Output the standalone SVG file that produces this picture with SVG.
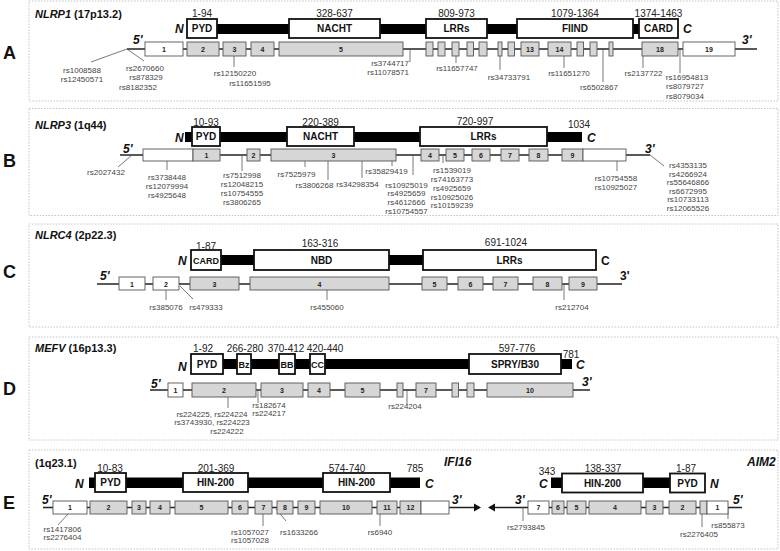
<svg xmlns="http://www.w3.org/2000/svg" width="780" height="551" viewBox="0 0 780 551">
<style>
.fr{fill:none;stroke:#c4c4c4;stroke-width:1;stroke-dasharray:1.5 1.5}
.bar{fill:#000}
.dom{fill:#fff;stroke:#111;stroke-width:1.8}
.ex{fill:#d6d6d6;stroke:#555;stroke-width:0.9}
.exw{fill:#fff;stroke:#555;stroke-width:0.9}
.gl{stroke:#222;stroke-width:1.3;fill:none}
.sn{stroke:#555;stroke-width:0.8;fill:none}
text{font-family:"Liberation Sans",Arial,sans-serif}
.rs{font-size:8px;fill:#444;text-anchor:middle}
.rse{font-size:8px;fill:#444;text-anchor:end}
.num{font-size:10px;fill:#222;text-anchor:middle}
.dl{font-size:10px;font-weight:bold;fill:#111;text-anchor:middle}
.ds{font-size:9px;font-weight:bold;fill:#111;text-anchor:middle}
.en{font-size:7px;font-weight:bold;fill:#222;text-anchor:middle}
.tm{font-size:12px;font-weight:bold;font-style:italic;fill:#111}
.tu{font-size:12px;font-weight:bold;fill:#111}
.ti{font-size:11px;font-weight:bold;fill:#111}
.pl{font-size:18px;font-weight:bold;fill:#111}
</style>

<!-- Panel frames and letters -->
<g id="frames">
<rect class="fr" x="29" y="1" width="749" height="100"/>
<rect class="fr" x="29" y="108.5" width="749" height="107"/>
<rect class="fr" x="29" y="224" width="749" height="103"/>
<rect class="fr" x="29" y="337" width="749" height="103"/>
<rect class="fr" x="29" y="450" width="749" height="99"/>
<text class="pl" x="3" y="59">A</text>
<text class="pl" x="3" y="167">B</text>
<text class="pl" x="3" y="278">C</text>
<text class="pl" x="3" y="395">D</text>
<text class="pl" x="3" y="508.5">E</text>
</g>

<!-- ================= PANEL A ================= -->
<g id="panelA">
<text class="ti" x="35" y="18"><tspan font-style="italic">NLRP1</tspan> (17p13.2)</text>
<g id="A-protein">
<rect class="bar" x="217" y="24" width="422" height="10"/>
<text class="tm" x="175" y="33">N</text>
<text class="tm" x="683" y="33">C</text>
<g id="A-PYD"><rect class="dom" x="187" y="19" width="30" height="19"/><text class="dl" x="202" y="32">PYD</text><text class="num" x="202" y="16.5">1-94</text></g>
<g id="A-NACHT"><rect class="dom" x="289" y="19" width="91" height="19"/><text class="dl" x="334.5" y="32">NACHT</text><text class="num" x="334.5" y="16.5">328-637</text></g>
<g id="A-LRRs"><rect class="dom" x="426" y="19" width="61" height="19"/><text class="dl" x="456.5" y="32">LRRs</text><text class="num" x="456.5" y="16.5">809-973</text></g>
<g id="A-FIIND"><rect class="dom" x="517" y="19" width="116" height="19"/><text class="dl" x="575" y="32">FIIND</text><text class="num" x="575" y="16.5">1079-1364</text></g>
<g id="A-CARD"><rect class="dom" x="639" y="19" width="39" height="19"/><text class="dl" x="658.5" y="32">CARD</text><text class="num" x="658.5" y="16.5">1374-1463</text></g>
</g>
<g id="A-connectors">
<line class="gl" x1="127" y1="49" x2="757" y2="49"/>
<line class="sn" x1="127" y1="49" x2="91" y2="62"/>
<line class="sn" x1="127" y1="49" x2="144" y2="61"/>
<line class="sn" x1="234" y1="56" x2="234" y2="67"/>
<line class="sn" x1="410" y1="49" x2="410" y2="62"/>
<line class="sn" x1="456" y1="56" x2="456" y2="63"/>
<line class="sn" x1="500" y1="56" x2="500" y2="70"/>
<line class="sn" x1="564" y1="56" x2="564" y2="68"/>
<line class="sn" x1="603" y1="49" x2="603" y2="82"/>
<line class="sn" x1="643" y1="56" x2="643" y2="68"/>
<line class="sn" x1="680" y1="49" x2="680" y2="73"/>
</g>
<g id="A-exons">
<text class="tm" x="133" y="44">5'</text>
<text class="tm" x="742" y="44">3'</text>
<g id="A-ex1"><rect class="exw" x="145" y="42" width="38" height="14"/><text class="en" x="164" y="51.5">1</text></g>
<g id="A-ex2"><rect class="ex" x="187" y="42" width="32" height="14"/><text class="en" x="203" y="51.5">2</text></g>
<g id="A-ex3"><rect class="ex" x="223" y="42" width="23" height="14"/><text class="en" x="234.5" y="51.5">3</text></g>
<g id="A-ex4"><rect class="ex" x="251" y="42" width="23" height="14"/><text class="en" x="262.5" y="51.5">4</text></g>
<g id="A-ex5"><rect class="ex" x="279" y="42" width="124" height="14"/><text class="en" x="341" y="51.5">5</text></g>
<g id="A-ex6"><rect class="ex" x="426" y="42" width="7" height="14"/></g>
<g id="A-ex7"><rect class="ex" x="438" y="42" width="7" height="14"/></g>
<g id="A-ex8"><rect class="ex" x="452" y="42" width="7" height="14"/></g>
<g id="A-ex9"><rect class="ex" x="467" y="42" width="6.5" height="14"/></g>
<g id="A-ex10"><rect class="ex" x="479" y="42" width="8" height="14"/></g>
<g id="A-ex11"><rect class="ex" x="498" y="42" width="4" height="14"/></g>
<g id="A-ex12"><rect class="ex" x="508" y="42" width="6.5" height="14"/></g>
<g id="A-ex13"><rect class="ex" x="521" y="42" width="18" height="14"/><text class="en" x="530" y="51.5">13</text></g>
<g id="A-ex14"><rect class="ex" x="548" y="42" width="23" height="14"/><text class="en" x="559.5" y="51.5">14</text></g>
<g id="A-ex15"><rect class="ex" x="577" y="42" width="6.5" height="14"/></g>
<g id="A-ex16"><rect class="ex" x="590" y="42" width="7" height="14"/></g>
<g id="A-ex17"><rect class="ex" x="609" y="42" width="4" height="14"/></g>
<g id="A-ex18"><rect class="ex" x="642" y="42" width="36" height="14"/><text class="en" x="660" y="51.5">18</text></g>
<g id="A-ex19"><rect class="exw" x="683" y="42" width="52" height="14"/><text class="en" x="709" y="51.5">19</text></g>
</g>
<g id="A-snps">
<text class="rs" x="82" y="73">rs1008588</text>
<text class="rs" x="82" y="82">rs12450571</text>
<text class="rs" x="145" y="71">rs2670660</text>
<text class="rs" x="146" y="80">rs878329</text>
<text class="rs" x="138" y="89.5">rs8182352</text>
<text class="rs" x="235" y="76">rs12150220</text>
<text class="rs" x="250" y="86">rs11651595</text>
<text class="rse" x="409" y="66">rs3744717</text>
<text class="rse" x="409" y="75">rs11078571</text>
<text class="rs" x="457" y="71">rs11657747</text>
<text class="rs" x="509" y="80">rs34733791</text>
<text class="rs" x="569" y="76">rs11651270</text>
<text class="rs" x="599" y="90">rs6502867</text>
<text class="rs" x="643.5" y="76">rs2137722</text>
<text class="rs" x="687" y="80">rs16954813</text>
<text class="rs" x="685" y="89">rs8079727</text>
<text class="rs" x="685" y="98.5">rs8079034</text>
</g>
</g>

<!-- ================= PANEL B ================= -->
<g id="panelB">
<text class="ti" x="35" y="129"><tspan font-style="italic">NLRP3</tspan> (1q44)</text>
<g id="B-protein">
<rect class="bar" x="185" y="132" width="397" height="10"/>
<text class="tm" x="175" y="141.5">N</text>
<text class="tm" x="587" y="141.5">C</text>
<text class="num" x="579" y="128">1034</text>
<g id="B-PYD"><rect class="dom" x="192" y="127" width="28" height="19"/><text class="dl" x="206" y="140">PYD</text><text class="num" x="206" y="126">10-93</text></g>
<g id="B-NACHT"><rect class="dom" x="287" y="127" width="67" height="19"/><text class="dl" x="320.5" y="140">NACHT</text><text class="num" x="320.5" y="126">220-389</text></g>
<g id="B-LRRs"><rect class="dom" x="420" y="127" width="127" height="19"/><text class="dl" x="483.5" y="140">LRRs</text><text class="num" x="475" y="124.5">720-997</text></g>
</g>
<g id="B-connectors">
<line class="gl" x1="120" y1="155" x2="650" y2="155"/>
<line class="sn" x1="132" y1="155" x2="118" y2="167"/>
<line class="sn" x1="167" y1="161" x2="167" y2="170"/>
<line class="sn" x1="242" y1="155" x2="242" y2="171"/>
<line class="sn" x1="305" y1="161" x2="305" y2="167"/>
<line class="sn" x1="328" y1="161" x2="328" y2="180"/>
<line class="sn" x1="362" y1="161" x2="362" y2="178"/>
<line class="sn" x1="392" y1="161" x2="392" y2="166"/>
<line class="sn" x1="413" y1="155" x2="413" y2="175"/>
<line class="sn" x1="443" y1="155" x2="443" y2="163"/>
<line class="sn" x1="617" y1="161" x2="617" y2="171"/>
<line class="sn" x1="650" y1="155" x2="664" y2="166"/>
</g>
<g id="B-exons">
<text class="tm" x="123" y="153">5'</text>
<text class="tm" x="645" y="153">3'</text>
<g id="B-utr5"><rect class="exw" x="143" y="149" width="50" height="12"/></g>
<g id="B-ex1"><rect class="ex" x="193" y="149" width="27" height="12"/><text class="en" x="206.5" y="157.5">1</text></g>
<g id="B-ex2"><rect class="ex" x="247" y="149" width="13" height="12"/><text class="en" x="253.5" y="157.5">2</text></g>
<g id="B-ex3"><rect class="ex" x="271" y="149" width="125" height="12"/><text class="en" x="333.5" y="157.5">3</text></g>
<g id="B-ex4"><rect class="ex" x="421" y="149" width="18" height="12"/><text class="en" x="430" y="157.5">4</text></g>
<g id="B-ex5"><rect class="ex" x="446" y="149" width="18" height="12"/><text class="en" x="455" y="157.5">5</text></g>
<g id="B-ex6"><rect class="ex" x="472" y="149" width="18" height="12"/><text class="en" x="481" y="157.5">6</text></g>
<g id="B-ex7"><rect class="ex" x="501" y="149" width="18" height="12"/><text class="en" x="510" y="157.5">7</text></g>
<g id="B-ex8"><rect class="ex" x="529" y="149" width="19" height="12"/><text class="en" x="538.5" y="157.5">8</text></g>
<g id="B-ex9"><rect class="ex" x="562" y="149" width="21" height="12"/><text class="en" x="572.5" y="157.5">9</text></g>
<g id="B-utr3"><rect class="exw" x="583" y="149" width="43" height="12"/></g>
</g>
<g id="B-snps">
<text class="rs" x="106" y="174.5">rs2027432</text>
<text class="rs" x="167" y="180">rs3738448</text>
<text class="rs" x="167" y="189">rs12079994</text>
<text class="rs" x="167" y="197.5">rs4925648</text>
<text class="rs" x="242" y="177.5">rs7512998</text>
<text class="rs" x="242" y="186.5">rs12048215</text>
<text class="rs" x="242" y="196">rs10754555</text>
<text class="rs" x="242" y="205">rs3806265</text>
<text class="rs" x="296.5" y="176.5">rs7525979</text>
<text class="rs" x="314.5" y="187.5">rs3806268</text>
<text class="rs" x="357.5" y="186.5">rs34298354</text>
<text class="rs" x="386.5" y="173.5">rs35829419</text>
<text class="rs" x="406.5" y="187.5">rs10925019</text>
<text class="rs" x="406.5" y="196">rs4925659</text>
<text class="rs" x="406.5" y="205">rs4612666</text>
<text class="rs" x="406.5" y="214">rs10754557</text>
<text class="rs" x="452" y="173">rs1539019</text>
<text class="rs" x="452" y="182">rs74163773</text>
<text class="rs" x="452" y="190.5">rs4925659</text>
<text class="rs" x="452" y="199.5">rs10925026</text>
<text class="rs" x="452" y="208">rs10159239</text>
<text class="rs" x="616" y="180.5">rs10754558</text>
<text class="rs" x="616" y="189.5">rs10925027</text>
<text class="rs" x="688" y="168">rs4353135</text>
<text class="rs" x="688" y="176.5">rs4266924</text>
<text class="rs" x="688" y="185">rs55646866</text>
<text class="rs" x="688" y="193.5">rs6672995</text>
<text class="rs" x="688" y="202">rs10733113</text>
<text class="rs" x="688" y="210.5">rs12065526</text>
</g>
</g>

<!-- ================= PANEL C ================= -->
<g id="panelC">
<text class="ti" x="35" y="238.5"><tspan font-style="italic">NLRC4</tspan> (2p22.3)</text>
<g id="C-protein">
<rect class="bar" x="221" y="255" width="202" height="10"/>
<text class="tm" x="178" y="265">N</text>
<text class="tu" x="601" y="265">C</text>
<g id="C-CARD"><rect class="dom" x="191" y="250" width="30" height="20"/><text class="ds" x="206" y="263.5">CARD</text><text class="num" x="206" y="249.5">1-87</text></g>
<g id="C-NBD"><rect class="dom" x="254" y="250" width="135" height="20"/><text class="dl" x="321.5" y="263.5">NBD</text><text class="num" x="320" y="247">163-316</text></g>
<g id="C-LRRs"><rect class="dom" x="423" y="250" width="173" height="20"/><text class="dl" x="509.5" y="263.5">LRRs</text><text class="num" x="506" y="246">691-1024</text></g>
</g>
<g id="C-connectors">
<line class="gl" x1="97" y1="284" x2="622" y2="284"/>
<line class="sn" x1="166" y1="290" x2="166" y2="300"/>
<line class="sn" x1="180" y1="286" x2="193" y2="299"/>
<line class="sn" x1="327" y1="290" x2="327" y2="300"/>
<line class="sn" x1="564" y1="284" x2="564" y2="300"/>
</g>
<g id="C-exons">
<text class="tm" x="100" y="280">5'</text>
<text class="tu" x="620" y="280">3'</text>
<g id="C-ex1"><rect class="exw" x="119" y="277" width="26" height="13"/><text class="en" x="132" y="286.5">1</text></g>
<g id="C-ex2"><rect class="exw" x="153" y="277" width="26" height="13"/><text class="en" x="166" y="286.5">2</text></g>
<g id="C-ex3"><rect class="ex" x="190" y="277" width="49" height="13"/><text class="en" x="214.5" y="286.5">3</text></g>
<g id="C-ex4"><rect class="ex" x="250" y="277" width="139" height="13"/><text class="en" x="319.5" y="286.5">4</text></g>
<g id="C-ex5"><rect class="ex" x="422" y="277" width="25" height="13"/><text class="en" x="434.5" y="286.5">5</text></g>
<g id="C-ex6"><rect class="ex" x="458" y="277" width="25" height="13"/><text class="en" x="470.5" y="286.5">6</text></g>
<g id="C-ex7"><rect class="ex" x="493" y="277" width="25" height="13"/><text class="en" x="505.5" y="286.5">7</text></g>
<g id="C-ex8"><rect class="ex" x="533" y="277" width="29" height="13"/><text class="en" x="547.5" y="286.5">8</text></g>
<g id="C-ex9"><rect class="ex" x="569" y="277" width="28" height="13"/><text class="en" x="583" y="286.5">9</text></g>
</g>
<g id="C-snps">
<text class="rs" x="166" y="310">rs385076</text>
<text class="rs" x="206" y="310">rs479333</text>
<text class="rs" x="327" y="310">rs455060</text>
<text class="rs" x="572" y="310">rs212704</text>
</g>
</g>

<!-- ================= PANEL D ================= -->
<g id="panelD">
<text class="ti" x="35" y="352"><tspan font-style="italic">MEFV</tspan> (16p13.3)</text>
<g id="D-protein">
<rect class="bar" x="222" y="359" width="350" height="10"/>
<text class="tm" x="178" y="371">N</text>
<text class="tm" x="576" y="369">C</text>
<text class="num" x="571" y="357.5">781</text>
<g id="D-PYD"><rect class="dom" x="191" y="354" width="32" height="20"/><text class="dl" x="207" y="367.5">PYD</text><text class="num" x="203" y="351.5">1-92</text></g>
<g id="D-Bz"><rect class="dom" x="237" y="354" width="14" height="20"/><text class="ds" x="244" y="367.5">Bz</text><text class="num" x="245" y="351.5">266-280</text></g>
<g id="D-BB"><rect class="dom" x="279" y="354" width="16" height="20"/><text class="ds" x="287" y="367.5">BB</text><text class="num" x="286" y="351.5">370-412</text></g>
<g id="D-CC"><rect class="dom" x="310" y="354" width="15" height="20"/><text class="ds" x="317.5" y="367.5">CC</text><text class="num" x="325" y="351.5">420-440</text></g>
<g id="D-SPRY"><rect class="dom" x="469" y="354" width="92" height="20"/><text class="dl" x="515" y="367.5">SPRY/B30</text><text class="num" x="517" y="351.5">597-776</text></g>
</g>
<g id="D-connectors">
<line class="gl" x1="150" y1="390" x2="590" y2="390"/>
<line class="sn" x1="228" y1="397" x2="228" y2="408"/>
<line class="sn" x1="258" y1="390" x2="258" y2="403"/>
<line class="sn" x1="407" y1="390" x2="407" y2="405"/>
</g>
<g id="D-exons">
<text class="tm" x="151" y="388">5'</text>
<text class="tm" x="582" y="386">3'</text>
<g id="D-ex1"><rect class="exw" x="168" y="383" width="15" height="14"/><text class="en" x="175.5" y="392.5">1</text></g>
<g id="D-ex2"><rect class="ex" x="192" y="383" width="64" height="14"/><text class="en" x="224" y="392.5">2</text></g>
<g id="D-ex3"><rect class="ex" x="261" y="383" width="42" height="14"/><text class="en" x="282" y="392.5">3</text></g>
<g id="D-ex4"><rect class="ex" x="308" y="383" width="22" height="14"/><text class="en" x="319" y="392.5">4</text></g>
<g id="D-ex5"><rect class="ex" x="345" y="383" width="35" height="14"/><text class="en" x="362.5" y="392.5">5</text></g>
<g id="D-ex6"><rect class="ex" x="397" y="383" width="6" height="14"/></g>
<g id="D-ex7"><rect class="ex" x="416" y="383" width="20" height="14"/><text class="en" x="426" y="392.5">7</text></g>
<g id="D-ex8"><rect class="ex" x="452" y="383" width="6.5" height="14"/></g>
<g id="D-ex9"><rect class="ex" x="467" y="383" width="7" height="14"/></g>
<g id="D-ex10"><rect class="ex" x="487" y="383" width="86" height="14"/><text class="en" x="530" y="392.5">10</text></g>
</g>
<g id="D-snps">
<text class="rs" x="212" y="416.5">rs224225, rs224224</text>
<text class="rs" x="212" y="425">rs3743930, rs224223</text>
<text class="rs" x="227" y="433.5">rs224222</text>
<text class="rs" x="269" y="407.5">rs182674</text>
<text class="rs" x="269" y="416">rs224217</text>
<text class="rs" x="405" y="409">rs224204</text>
</g>
</g>

<!-- ================= PANEL E ================= -->
<g id="panelE">
<text class="ti" x="35" y="466.5">(1q23.1)</text>
<text class="tm" x="444" y="465.5">IFI16</text>
<text class="tm" x="747" y="465.5">AIM2</text>
<g id="E-IFI16-protein">
<rect class="bar" x="89" y="477.5" width="331" height="10.5"/>
<text class="tm" x="75" y="487.5">N</text>
<text class="tm" x="425" y="488">C</text>
<text class="num" x="415" y="472">785</text>
<g id="E-IFI16-PYD"><rect class="dom" x="95" y="473" width="31" height="19"/><text class="dl" x="110.5" y="486">PYD</text><text class="num" x="110" y="472">10-83</text></g>
<g id="E-IFI16-HIN1"><rect class="dom" x="183" y="473" width="65" height="19"/><text class="dl" x="215.5" y="486">HIN-200</text><text class="num" x="216" y="472">201-369</text></g>
<g id="E-IFI16-HIN2"><rect class="dom" x="323" y="473" width="67" height="19"/><text class="dl" x="356.5" y="486">HIN-200</text><text class="num" x="347" y="472">574-740</text></g>
</g>
<g id="E-AIM2-protein">
<rect class="bar" x="551" y="477.5" width="119" height="10.5"/>
<text class="tm" x="539" y="488">C</text>
<text class="tm" x="710" y="488">N</text>
<text class="num" x="547" y="475">343</text>
<g id="E-AIM2-HIN"><rect class="dom" x="562" y="473.5" width="81" height="19"/><text class="dl" x="602.5" y="486.5">HIN-200</text><text class="num" x="603" y="472">138-337</text></g>
<g id="E-AIM2-PYD"><rect class="dom" x="670" y="473.5" width="35" height="19"/><text class="dl" x="687.5" y="486.5">PYD</text><text class="num" x="686" y="472">1-87</text></g>
</g>
<g id="E-connectors">
<line class="gl" x1="43" y1="507.5" x2="475" y2="507.5"/>
<polygon points="474,503.5 481,507.5 474,511.5" fill="#111"/>
<line class="gl" x1="742" y1="507.5" x2="494" y2="507.5"/>
<polygon points="495,503.5 488,507.5 495,511.5" fill="#111"/>
<line class="sn" x1="68" y1="514" x2="58" y2="525"/>
<line class="sn" x1="263" y1="514" x2="263" y2="526"/>
<line class="sn" x1="276" y1="509" x2="286" y2="521"/>
<line class="sn" x1="380" y1="514" x2="380" y2="526"/>
<line class="sn" x1="523" y1="507.5" x2="523" y2="521"/>
<line class="sn" x1="702" y1="514" x2="702" y2="527"/>
<line class="sn" x1="728" y1="507.5" x2="728" y2="519"/>
</g>
<g id="E-IFI16-exons">
<text class="tm" x="42" y="504">5'</text>
<text class="tm" x="452" y="503.5">3'</text>
<g id="E-i1"><rect class="exw" x="53" y="501" width="34" height="13"/><text class="en" x="70" y="510">1</text></g>
<g id="E-i2"><rect class="ex" x="90" y="501" width="37" height="13"/><text class="en" x="108.5" y="510">2</text></g>
<g id="E-i3"><rect class="ex" x="132" y="501" width="14" height="13"/><text class="en" x="139" y="510">3</text></g>
<g id="E-i4"><rect class="ex" x="150" y="501" width="20" height="13"/><text class="en" x="160" y="510">4</text></g>
<g id="E-i5"><rect class="ex" x="175" y="501" width="53" height="13"/><text class="en" x="201.5" y="510">5</text></g>
<g id="E-i6"><rect class="ex" x="232" y="501" width="16" height="13"/><text class="en" x="240" y="510">6</text></g>
<g id="E-i7"><rect class="ex" x="255" y="501" width="17" height="13"/><text class="en" x="263.5" y="510">7</text></g>
<g id="E-i8"><rect class="ex" x="277" y="501" width="16" height="13"/><text class="en" x="285" y="510">8</text></g>
<g id="E-i9"><rect class="ex" x="298" y="501" width="17" height="13"/><text class="en" x="306.5" y="510">9</text></g>
<g id="E-i10"><rect class="ex" x="320" y="501" width="52" height="13"/><text class="en" x="346" y="510">10</text></g>
<g id="E-i11"><rect class="ex" x="377" y="501" width="20" height="13"/><text class="en" x="387" y="510">11</text></g>
<g id="E-i12"><rect class="ex" x="400" y="501" width="21" height="13"/><text class="en" x="410.5" y="510">12</text></g>
<g id="E-iutr"><rect class="exw" x="421" y="501" width="28" height="13"/></g>
</g>
<g id="E-AIM2-exons">
<text class="tm" x="515" y="503.5">3'</text>
<text class="tm" x="733" y="503.5">5'</text>
<g id="E-a7"><rect class="exw" x="528" y="501" width="21" height="13"/><text class="en" x="538.5" y="510">7</text></g>
<g id="E-a6"><rect class="ex" x="552" y="501" width="12" height="13"/><text class="en" x="558" y="510">6</text></g>
<g id="E-a5"><rect class="ex" x="567" y="501" width="19" height="13"/><text class="en" x="576.5" y="510">5</text></g>
<g id="E-a4"><rect class="ex" x="589" y="501" width="52" height="13"/><text class="en" x="615" y="510">4</text></g>
<g id="E-a3"><rect class="ex" x="646" y="501" width="17" height="13"/><text class="en" x="654.5" y="510">3</text></g>
<g id="E-a2"><rect class="ex" x="669" y="501" width="27" height="13"/><text class="en" x="682.5" y="510">2</text></g>
<g id="E-a1b"><rect class="ex" x="700" y="501" width="7" height="13"/></g>
<g id="E-a1"><rect class="exw" x="707" y="501" width="21" height="13"/><text class="en" x="717.5" y="510">1</text></g>
</g>
<g id="E-snps">
<text class="rs" x="62.5" y="531.5">rs1417806</text>
<text class="rs" x="62.5" y="540">rs2276404</text>
<text class="rs" x="250" y="534.5">rs1057027</text>
<text class="rs" x="250" y="542.5">rs1057028</text>
<text class="rs" x="299" y="534.5">rs1633266</text>
<text class="rs" x="380" y="534.5">rs6940</text>
<text class="rs" x="526" y="530">rs2793845</text>
<text class="rs" x="699" y="537">rs2276405</text>
<text class="rs" x="728" y="527.5">rs855873</text>
</g>
</g>
</svg>
